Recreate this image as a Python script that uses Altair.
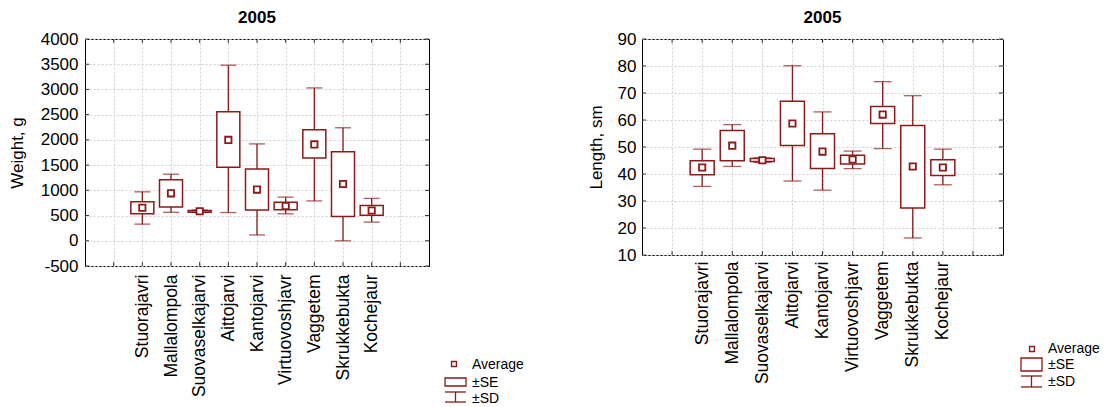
import altair as alt
import pandas as pd

categories = ["Stuorajavri", "Mallalompola", "Suovaselkajarvi", "Aittojarvi", "Kantojarvi",
              "Virtuovoshjavr", "Vaggetem", "Skrukkebukta", "Kochejaur"]
x_slots = [" "] + categories + ["  "]

# Weight, g
w_mean = [655, 940, 585, 2000, 1015, 690, 1910, 1125, 600]
w_se_lo = [535, 670, 568, 1460, 610, 615, 1640, 480, 505]
w_se_hi = [775, 1210, 600, 2560, 1425, 765, 2200, 1765, 700]
w_sd_lo = [330, 565, 560, 560, 115, 535, 790, 0, 370]
w_sd_hi = [970, 1320, 610, 3480, 1920, 865, 3030, 2240, 840]
w_ticks = [-500, 0, 500, 1000, 1500, 2000, 2500, 3000, 3500, 4000]

# Length, sm
l_mean = [42.4, 50.5, 45.1, 58.7, 48.3, 45.4, 62.0, 42.8, 42.4]
l_se_lo = [39.7, 44.9, 44.6, 50.6, 42.0, 43.7, 58.7, 27.4, 39.4]
l_se_hi = [44.9, 56.1, 45.7, 66.9, 54.9, 46.9, 65.0, 58.0, 45.3]
l_sd_lo = [35.4, 42.8, 44.3, 37.4, 34.0, 42.0, 49.4, 16.3, 36.0]
l_sd_hi = [49.2, 58.3, 46.0, 80.1, 63.0, 48.5, 74.2, 69.0, 49.2]
l_ticks = [10, 20, 30, 40, 50, 60, 70, 80, 90]

legend_labels = ["Average", "±SE", "±SD"]

COLOR = "#8b1a1a"
FONT = "Liberation Sans"


def panel(mean, se_lo, se_hi, sd_lo, sd_hi, ticks, ytitle, width, height,
          box_w, cap_w, lab_pad, title_pad, xlab_pad, leg):
    df = pd.DataFrame(dict(cat=categories, mean=mean, se_lo=se_lo, se_hi=se_hi,
                           sd_lo=sd_lo, sd_hi=sd_hi))
    xscale = alt.Scale(domain=x_slots, type="point", padding=1)
    xaxis = alt.Axis(title=None, labelAngle=270, labelAlign="right", labelBaseline="middle",
                     labelPadding=xlab_pad, grid=True, ticks=False, domain=False,
                     labelOverlap=False, labelFontSize=17.5)
    yscale = alt.Scale(domain=[ticks[0], ticks[-1]], nice=False, zero=False)
    yaxis = alt.Axis(title=ytitle, values=ticks, labelExpr="'' + datum.value", grid=True,
                     ticks=False, domain=False, labelPadding=lab_pad, titlePadding=title_pad,
                     labelOverlap=False, labelBound=False, labelFlush=False)
    base = alt.Chart(df)
    X = lambda: alt.X("cat:N", scale=xscale, axis=xaxis)
    Y = lambda f: alt.Y(f, scale=yscale, axis=yaxis)
    whisk = base.mark_rule(color=COLOR, strokeWidth=1.3).encode(
        x=X(), y=Y("sd_lo:Q"), y2="sd_hi:Q")
    box = base.mark_bar(size=box_w, fill="white", stroke=COLOR, strokeWidth=1.5).encode(
        x=X(), y=Y("se_lo:Q"), y2="se_hi:Q")
    cap_hi = base.mark_tick(orient="horizontal", size=cap_w, thickness=1.3, color=COLOR).encode(
        x=X(), y=Y("sd_hi:Q"))
    cap_lo = base.mark_tick(orient="horizontal", size=cap_w, thickness=1.3, color=COLOR).encode(
        x=X(), y=Y("sd_lo:Q"))
    avg = base.mark_square(size=40, fill="white", stroke=COLOR, strokeWidth=1.8, opacity=1).encode(
        x=X(), y=Y("mean:Q"))

    tdf = pd.DataFrame({"v": ticks})
    xdf = pd.DataFrame({"cat": x_slots})
    ytick_l = alt.Chart(tdf).mark_rule(color="#333333").encode(
        y=Y("v:Q"), x=alt.value(0), x2=alt.value(4))
    ytick_r = alt.Chart(tdf).mark_rule(color="#333333").encode(
        y=Y("v:Q"), x=alt.value(width - 4), x2=alt.value(width))
    xtick_b = alt.Chart(xdf).mark_rule(color="#333333").encode(
        x=X(), y=alt.value(height - 4), y2=alt.value(height))
    xtick_t = alt.Chart(xdf).mark_rule(color="#333333").encode(
        x=X(), y=alt.value(0), y2=alt.value(4))

    # legend
    mx, my, tx, ty_a, sx1, sx2, sy1, sy2, ty_se, dy1, dy2, ty_sd = leg
    lg = []
    lg.append(alt.Chart(pd.DataFrame({"label": [legend_labels[0]]})).mark_square(
        size=24, fill="white", stroke=COLOR, strokeWidth=1.4, opacity=1).encode(
        x=alt.value(mx), y=alt.value(my)))
    for lab, ty in zip(legend_labels, [ty_a, ty_se, ty_sd]):
        lg.append(alt.Chart(pd.DataFrame({"label": [lab]})).mark_text(
            align="left", baseline="middle", font=FONT, fontSize=14, color="black").encode(
            x=alt.value(tx), y=alt.value(ty), text="label:N"))
    one = pd.DataFrame({"label": [legend_labels[1]]})
    lg.append(alt.Chart(one).mark_rect(fill="white", stroke=COLOR, strokeWidth=1.3).encode(
        x=alt.value(sx1), x2=alt.value(sx2), y=alt.value(sy1), y2=alt.value(sy2)))
    sd = pd.DataFrame({"label": [legend_labels[2]]})
    cx = (sx1 + sx2) / 2
    lg.append(alt.Chart(sd).mark_rule(color=COLOR, strokeWidth=1.3).encode(
        x=alt.value(cx), y=alt.value(dy1), y2=alt.value(dy2)))
    lg.append(alt.Chart(sd).mark_rule(color=COLOR, strokeWidth=1.3).encode(
        x=alt.value(sx1), x2=alt.value(sx2), y=alt.value(dy1)))
    lg.append(alt.Chart(sd).mark_rule(color=COLOR, strokeWidth=1.3).encode(
        x=alt.value(sx1), x2=alt.value(sx2), y=alt.value(dy2)))

    return alt.layer(whisk, box, cap_hi, cap_lo, avg, ytick_l, ytick_r, xtick_b, xtick_t, *lg).properties(
        width=width, height=height,
        title=alt.TitleParams("2005", fontSize=17, fontWeight="bold", font=FONT,
                              anchor="middle", offset=3, color="black"))


left = panel(w_mean, w_se_lo, w_se_hi, w_sd_lo, w_sd_hi, w_ticks, "Weight, g", 344, 227,
             23, 16, 7, 14, 8,
             (369, 325, 387, 326, 360, 381, 339, 347, 344, 353, 363, 360))
right = panel(l_mean, l_se_lo, l_se_hi, l_sd_lo, l_sd_hi, l_ticks, "Length, sm", 361, 216,
              24, 18, 6, 12, 6,
              (390, 310, 406, 310, 379, 400, 319, 332, 326, 337, 348, 343))

chart = alt.hconcat(left, right, spacing=213, bounds="flush").properties(
    padding={"left": 7, "top": 8, "right": 0, "bottom": 0}
).configure_view(stroke="black", strokeWidth=1).configure_axis(
    labelFont=FONT, titleFont=FONT, labelFontSize=17, titleFontSize=17,
    titleFontWeight="normal", labelColor="black", titleColor="black",
    gridColor="#d0d0d0", gridDash=[2, 2], gridWidth=1, labelOverlap=False
)

chart.save("out.html", embed_options={"renderer": "svg", "actions": False})
